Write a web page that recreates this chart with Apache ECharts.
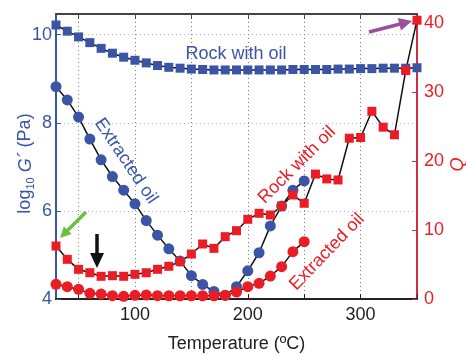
<!DOCTYPE html>
<html>
<head>
<meta charset="utf-8">
<script src="https://cdn.jsdelivr.net/npm/echarts@6/dist/echarts.min.js"></script>
<style>
html, body { margin: 0; padding: 0; background: #fff; }
#main { width: 466px; height: 354px; }
</style>
</head>
<body>
<div id="main"></div>
<script>
// temperature steps (ºC)
var temps = [30, 40, 50, 60, 70, 80, 90, 100, 110, 120, 130, 140, 150, 160, 170, 180, 190,
    200, 210, 220, 230, 240, 250, 260, 270, 280, 290, 300, 310, 320, 330, 340, 350];
var tempsExtracted = [30, 40, 50, 60, 70, 80, 90, 100, 110, 120, 130, 140, 150, 160, 170, 180, 190,
    200, 210, 220, 230, 240, 250];

// log10 G' (Pa)
var rockG = [10.22, 10.08, 9.95, 9.82, 9.69, 9.58, 9.49, 9.42, 9.36, 9.30, 9.26, 9.24, 9.22, 9.21, 9.20, 9.20, 9.20,
    9.20, 9.20, 9.20, 9.20, 9.21, 9.21, 9.21, 9.21, 9.22, 9.22, 9.23, 9.23, 9.24, 9.24, 9.24, 9.25];
var extractedG = [8.82, 8.52, 8.13, 7.63, 7.16, 6.78, 6.47, 6.16, 5.78, 5.45, 5.14, 4.86, 4.53, 4.33, 4.17, 4.08, 4.28,
    4.64, 5.05, 5.66, 6.11, 6.47, 6.68];

// Q
var rockQ = [7.68, 5.75, 4.30, 3.81, 3.29, 3.38, 3.29, 3.58, 3.81, 4.30, 4.74, 5.41, 6.52, 7.97, 7.34, 9.03, 9.90,
    11.55, 12.42, 12.17, 13.48, 15.07, 13.87, 18.1, 17.4, 17.25, 23.3, 23.4, 27.2, 24.9, 23.8, 33.1, 40.4];
var extractedQ = [2.13, 1.79, 1.40, 0.82, 0.72, 0.48, 0.39, 0.53, 0.58, 0.48, 0.47, 0.47, 0.47, 0.47, 0.47, 0.55, 1.01,
    1.79, 2.27, 3.33, 4.69, 6.86, 8.31];

// ticks
var xTicks = [50, 100, 150, 200, 250, 300, 350];
var xLabels = [100, 200, 300];
var gTicks = [4, 6, 8, 10];
var qTicks = [0, 10, 20, 30, 40];

var BLUE = '#3a55a6';
var RED = '#ec1c24';
var FONT = "'Liberation Sans', Arial, sans-serif";

function pairs(xs, ys) {
    return xs.map(function (x, i) { return [x, ys[i]]; });
}

// arrow polygon from (x1,y1) to tip (x2,y2)
function arrow(x1, y1, x2, y2, w, hl, hw, color) {
    var dx = x2 - x1, dy = y2 - y1;
    var len = Math.sqrt(dx * dx + dy * dy);
    var ux = dx / len, uy = dy / len;
    var px = -uy, py = ux;
    var bx = x2 - ux * hl, by = y2 - uy * hl;
    var pts = [
        [x1 + px * w / 2, y1 + py * w / 2],
        [bx + px * w / 2, by + py * w / 2],
        [bx + px * hw / 2, by + py * hw / 2],
        [x2, y2],
        [bx - px * hw / 2, by - py * hw / 2],
        [bx - px * w / 2, by - py * w / 2],
        [x1 - px * w / 2, y1 - py * w / 2]
    ];
    return { type: 'polygon', shape: { points: pts }, style: { fill: color }, z: 100 };
}

function label(text, x, y, deg, color) {
    return {
        type: 'text', x: x, y: y, rotation: deg * Math.PI / 180, z: 100,
        style: { text: text, fill: color, font: '18px ' + FONT, align: 'center', verticalAlign: 'middle' }
    };
}

var myChart = echarts.init(document.getElementById('main'));

var option = {
    backgroundColor: '#fff',
    animation: false,
    textStyle: { fontFamily: FONT },
    grid: { left: 56, right: 49, top: 14, bottom: 55, outerBoundsMode: 'none', containLabel: false },
    xAxis: [{
        type: 'value', min: 30, max: 350,
        name: 'Temperature (ºC)', nameLocation: 'middle', nameGap: 36, nameMoveOverlap: false,
        nameTextStyle: { color: '#222', fontSize: 18 },
        axisLine: { lineStyle: { color: '#222', width: 2 } },
        axisTick: { inside: true, length: 5, customValues: xTicks, lineStyle: { color: '#222' } },
        axisLabel: { customValues: xLabels, color: '#222', fontSize: 18, margin: 7 },
        splitLine: { show: true, lineStyle: { color: '#777', type: [1, 3], width: 1 } }
    }, {
        type: 'value', min: 30, max: 350, position: 'top',
        axisLine: { onZero: false, lineStyle: { color: '#444', width: 2 } },
        axisTick: { inside: true, length: 5, customValues: xTicks, lineStyle: { color: '#444' } },
        axisLabel: { show: false },
        splitLine: { show: false }
    }],
    yAxis: [{
        type: 'value', min: 4, max: 10.47, position: 'left',
        name: '{n|log}{s|10}{n| }{i|G´}{n| (Pa)}', nameLocation: 'middle', nameGap: 20, nameRotate: 90,
        nameMoveOverlap: false,
        nameTextStyle: {
            color: BLUE,
            padding: [0, 14, 0, 0],
            rich: {
                n: { fontSize: 18, color: BLUE, fontFamily: FONT },
                s: { fontSize: 11, color: BLUE, fontFamily: FONT, verticalAlign: 'bottom', padding: [10, 0, 0, 0] },
                i: { fontSize: 18, color: BLUE, fontStyle: 'italic', fontFamily: FONT }
            }
        },
        axisLine: { show: true, onZero: false, lineStyle: { color: BLUE, width: 2 } },
        axisTick: { inside: true, length: 5, customValues: gTicks, lineStyle: { color: BLUE } },
        axisLabel: { customValues: gTicks, color: BLUE, fontSize: 18, margin: 4 },
        splitLine: { show: true, lineStyle: { color: '#a9b3dc', type: [1, 3], width: 1 } }
    }, {
        type: 'value', min: 0, max: 41.3, position: 'right',
        name: 'Q', nameLocation: 'middle', nameGap: 32, nameRotate: 90, nameMoveOverlap: false,
        nameTextStyle: { color: RED, fontSize: 18, fontStyle: 'italic', padding: [0, 16, 0, 0] },
        axisLine: { show: true, onZero: false, lineStyle: { color: '#cc2e44', width: 2 } },
        axisTick: { inside: true, length: 5, customValues: qTicks, lineStyle: { color: '#cc2e44' } },
        axisLabel: { customValues: qTicks, color: RED, fontSize: 18, margin: 7 },
        splitLine: { show: false }
    }],
    series: [{
        name: 'Rock with oil G', type: 'line', xAxisIndex: 0, yAxisIndex: 0,
        data: pairs(temps, rockG),
        symbol: 'rect', symbolSize: 9,
        itemStyle: { color: BLUE },
        lineStyle: { color: '#111', width: 1.5 }
    }, {
        name: 'Extracted oil G', type: 'line', xAxisIndex: 0, yAxisIndex: 0,
        data: pairs(tempsExtracted, extractedG),
        symbol: 'circle', symbolSize: 11,
        itemStyle: { color: BLUE },
        lineStyle: { color: '#111', width: 1.5 }
    }, {
        name: 'Rock with oil Q', type: 'line', xAxisIndex: 0, yAxisIndex: 1,
        data: pairs(temps, rockQ),
        symbol: 'rect', symbolSize: 9,
        itemStyle: { color: RED },
        lineStyle: { color: '#111', width: 1.5 }
    }, {
        name: 'Extracted oil Q', type: 'line', xAxisIndex: 0, yAxisIndex: 1,
        data: pairs(tempsExtracted, extractedQ),
        symbol: 'circle', symbolSize: 11,
        itemStyle: { color: RED },
        lineStyle: { color: '#111', width: 1.5 }
    }],
    graphic: [
        label('Rock with oil', 236, 54, 0, BLUE),
        label('Extracted oil', 126, 161, -56, BLUE),
        label('Rock with oil', 297, 165, 45, RED),
        label('Extracted oil', 327, 252, 46, RED),
        arrow(86, 212, 60, 238, 3.5, 11, 11, '#6cbf45'),
        arrow(97, 234, 97, 268, 3.5, 15, 14, '#111'),
        arrow(369, 32, 412, 21, 3.5, 13, 13, '#9b4f9d')
    ]
};

myChart.setOption(option);
</script>
</body>
</html>
